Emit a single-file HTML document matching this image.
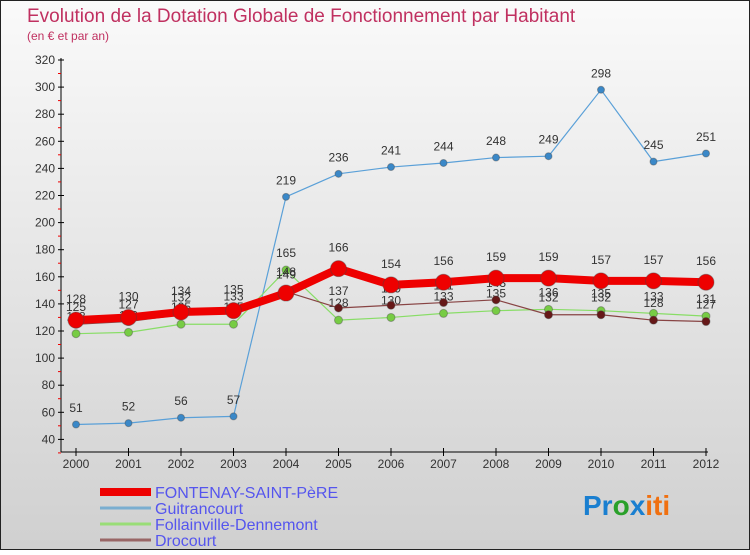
<!DOCTYPE html>
<html><head><meta charset="utf-8"><style>
body{margin:0}
svg text{font-family:"Liberation Sans",sans-serif}
</style></head><body>
<svg id="c" width="750" height="550" xmlns="http://www.w3.org/2000/svg">
<defs><linearGradient id="bg" x1="0" y1="0" x2="0" y2="1"><stop offset="0" stop-color="#fafafa"/><stop offset="1" stop-color="#d0d0d0"/></linearGradient></defs>
<rect x="0.5" y="0.5" width="749" height="549" fill="url(#bg)" stroke="#222"/>
<text x="27" y="22" font-size="19" fill="#c03060">Evolution de la Dotation Globale de Fonctionnement par Habitant</text>
<text x="27" y="40" font-size="12" fill="#c03060">(en € et par an)</text>
<g id="axes"></g><g id="series"></g><g id="legend"></g>
<text x="583" y="515" font-size="28" font-weight="bold"><tspan fill="#1a7fd0">Pr</tspan><tspan fill="#2aa02a">o</tspan><tspan fill="#1a7fd0">x</tspan><tspan fill="#f07010">iti</tspan></text>
</svg>
<script>
const years=[2000,2001,2002,2003,2004,2005,2006,2007,2008,2009,2010,2011,2012];
const yTicks=[40,60,80,100,120,140,160,180,200,220,240,260,280,300,320];
const fontenay=[128,130,134,135,148,166,154,156,159,159,157,157,156];
const guitrancourt=[51,52,56,57,219,236,241,244,248,249,298,245,251];
const follainville=[118,119,125,125,165,128,130,133,135,136,135,133,131];
const drocourt=[125,127,132,133,149,137,139,141,143,132,132,128,127];
const NS="http://www.w3.org/2000/svg";
const X=i=>76+i*52.5;
const Y=v=>60+(320-v)*1.355;
function mk(p,t,a){const e=document.createElementNS(NS,t);for(const k in a)e.setAttribute(k,a[k]);p.appendChild(e);return e;}
const ax=document.getElementById('axes');
const yl=mk(ax,'line',{x1:61,y1:58,x2:61,y2:452,stroke:'#000'});


const xl=mk(ax,'line',{x1:61,y1:452,x2:708,y2:452,stroke:'#000'});


yTicks.forEach(v=>{
 mk(ax,'line',{x1:58,y1:Y(v),x2:64,y2:Y(v),stroke:'#000'});
 mk(ax,'line',{x1:58,y1:Y(v)+13.5,x2:61,y2:Y(v)+13.5,stroke:'#e00'});
 const t=mk(ax,'text',{x:55,y:Y(v)+4,'font-size':12,'text-anchor':'end',fill:'#333'});t.textContent=v;
 
 
});
years.forEach((yr,i)=>{
 mk(ax,'line',{x1:X(i),y1:448,x2:X(i),y2:456,stroke:'#000'});
 const t=mk(ax,'text',{x:X(i),y:468,'font-size':12,'text-anchor':'middle',fill:'#333'});t.textContent=yr;
 
 
});
const sg=document.getElementById('series');
function series(vals,name,color,w,r,fill,labelAbove){
 const g=mk(sg,'g',{});
 
 
 mk(g,'polyline',{points:vals.map((v,i)=>X(i)+','+Y(v)).join(' '),fill:'none',stroke:color,'stroke-width':w,'stroke-linejoin':'round'});
 vals.forEach((v,i)=>{
  const c=mk(g,'circle',{cx:X(i),cy:Y(v),r:r,fill:fill,stroke:'#444','stroke-opacity':0.4});
  
  
  const t=mk(g,'text',{x:X(i),y:Y(v)-(labelAbove?9:-1)-r+ (labelAbove?0:0),'font-size':12,'text-anchor':'middle',fill:'#333'});t.textContent=v;
  
  
 });
}
series(guitrancourt,'guitrancourt','#5aa0d8',1.2,3.5,'#3a88c8',true);
series(follainville,'follainville','#88dd66',1.2,4,'#77cc44',true);
series(drocourt,'drocourt','#884444',1.2,4,'#661818',true);
series(fontenay,'fontenay','#ee0000',8,8,'#ee0000',true);
const lg=document.getElementById('legend');
const items=[['FONTENAY-SAINT-PèRE','#ee0000',8],['Guitrancourt','#7aaed0',3],['Follainville-Dennemont','#99dd77',3],['Drocourt','#996666',3]];
items.forEach((it,i)=>{
 const y=492+i*16;
 const g=mk(lg,'g',{});
 
 
 mk(g,'line',{x1:100,y1:y,x2:151,y2:y,stroke:it[1],'stroke-width':it[2]});
 const t=mk(g,'text',{x:155,y:y+6,'font-size':16,fill:'#5555ee'});t.textContent=it[0];
});
</script>
</body></html>
